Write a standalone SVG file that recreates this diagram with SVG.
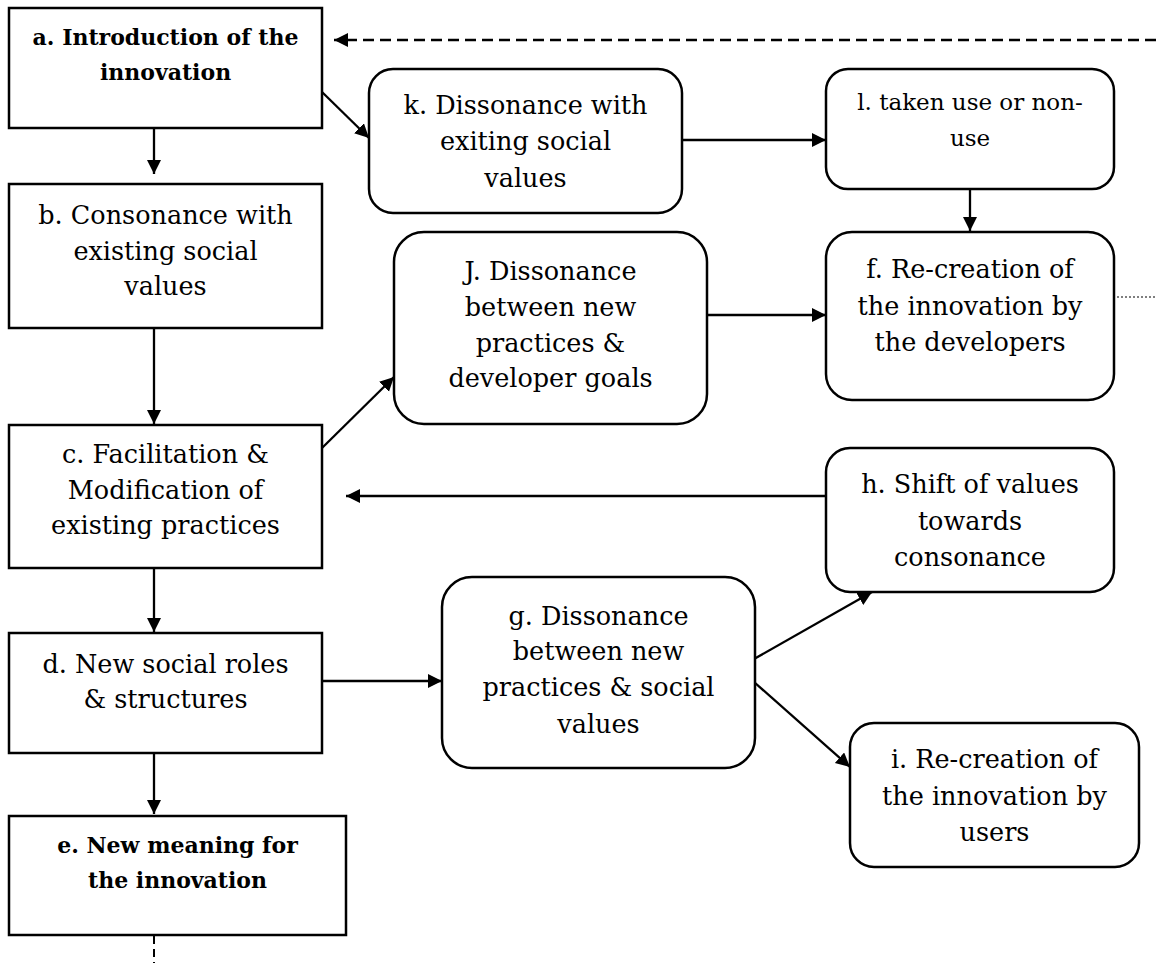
<svg xmlns="http://www.w3.org/2000/svg" width="1156" height="963" viewBox="0 0 1156 963">
<style>
.box{fill:#fff;stroke:#000;stroke-width:2.5}
.t{font-family:"DejaVu Serif","Liberation Serif",serif;font-size:25.5px;fill:#000;text-anchor:middle}
.tb{font-family:"DejaVu Serif","Liberation Serif",serif;font-size:22px;font-weight:bold;fill:#000;text-anchor:middle}
.tr{font-family:"DejaVu Serif","Liberation Serif",serif;font-size:23px;fill:#000;text-anchor:middle}
.c{fill:none;stroke:#000;stroke-width:2.3}
.dash{fill:none;stroke:#000;stroke-width:2.3;stroke-dasharray:11 6}
.dot{fill:none;stroke:#000;stroke-width:1.2;stroke-dasharray:2 2}
.vdash{fill:none;stroke:#000;stroke-width:2;stroke-dasharray:8 5}
</style>
<defs>
<marker id="ah" markerUnits="userSpaceOnUse" markerWidth="15" markerHeight="15" refX="14" refY="7" orient="auto">
<path d="M0,0 L14,7 L0,14 Z" fill="#000"/>
</marker>
</defs>
<rect width="1156" height="963" fill="#fff"/>

<g id="connectors">
<line class="dash" x1="1156" y1="40" x2="334" y2="40" marker-end="url(#ah)"/>
<line class="c" x1="154" y1="128" x2="154" y2="174" marker-end="url(#ah)"/>
<line class="c" x1="154" y1="328" x2="154" y2="424" marker-end="url(#ah)"/>
<line class="c" x1="154" y1="568" x2="154" y2="632" marker-end="url(#ah)"/>
<line class="c" x1="154" y1="753" x2="154" y2="814" marker-end="url(#ah)"/>
<line class="c" x1="322" y1="92" x2="369" y2="138" marker-end="url(#ah)"/>
<line class="c" x1="682" y1="140" x2="826" y2="140" marker-end="url(#ah)"/>
<line class="c" x1="970" y1="189" x2="970" y2="231" marker-end="url(#ah)"/>
<line class="c" x1="707" y1="315" x2="826" y2="315" marker-end="url(#ah)"/>
<line class="c" x1="322" y1="448" x2="394" y2="377" marker-end="url(#ah)"/>
<line class="c" x1="826" y1="496" x2="346" y2="496" marker-end="url(#ah)"/>
<line class="c" x1="322" y1="681" x2="442" y2="681" marker-end="url(#ah)"/>
<line class="c" x1="754" y1="659" x2="872" y2="592" marker-end="url(#ah)"/>
<line class="c" x1="754" y1="682" x2="850" y2="767" marker-end="url(#ah)"/>
<line class="dot" x1="1117" y1="297" x2="1156" y2="297"/>
<line class="vdash" x1="154" y1="936" x2="154" y2="963"/>
</g>

<g id="node-a">
<rect class="box" x="9" y="8" width="313" height="120"/>
<text class="tb" x="165.5" y="45">a. Introduction of the</text>
<text class="tb" x="165.5" y="80">innovation</text>
</g>
<g id="node-b">
<rect class="box" x="9" y="184" width="313" height="144"/>
<text class="t" x="165.5" y="224">b. Consonance with</text>
<text class="t" x="165.5" y="260">existing social</text>
<text class="t" x="165.5" y="295">values</text>
</g>
<g id="node-c">
<rect class="box" x="9" y="425" width="313" height="143"/>
<text class="t" x="165.5" y="463">c. Facilitation &amp;</text>
<text class="t" x="165.5" y="499">Modification of</text>
<text class="t" x="165.5" y="534">existing practices</text>
</g>
<g id="node-d">
<rect class="box" x="9" y="633" width="313" height="120"/>
<text class="t" x="165.5" y="673">d. New social roles</text>
<text class="t" x="165.5" y="708">&amp; structures</text>
</g>
<g id="node-e">
<rect class="box" x="9" y="816" width="337" height="119"/>
<text class="tb" x="177.5" y="853">e. New meaning for</text>
<text class="tb" x="177.5" y="888">the innovation</text>
</g>
<g id="node-k">
<rect class="box" x="369" y="69" width="313" height="144" rx="24"/>
<text class="t" x="525.5" y="114">k. Dissonance with</text>
<text class="t" x="525.5" y="150">exiting social</text>
<text class="t" x="525.5" y="187">values</text>
</g>
<g id="node-l">
<rect class="box" x="826" y="69" width="288" height="120" rx="22"/>
<text class="tr" x="970" y="110">l. taken use or non-</text>
<text class="tr" x="970" y="146">use</text>
</g>
<g id="node-f">
<rect class="box" x="826" y="232" width="288" height="168" rx="26"/>
<text class="t" x="970" y="278">f. Re-creation of</text>
<text class="t" x="970" y="315">the innovation by</text>
<text class="t" x="970" y="351">the developers</text>
</g>
<g id="node-j">
<rect class="box" x="394" y="232" width="313" height="192" rx="30"/>
<text class="t" x="550.5" y="280">J. Dissonance</text>
<text class="t" x="550.5" y="316">between new</text>
<text class="t" x="550.5" y="352">practices &amp;</text>
<text class="t" x="550.5" y="387">developer goals</text>
</g>
<g id="node-h">
<rect class="box" x="826" y="448" width="288" height="144" rx="24"/>
<text class="t" x="970" y="493">h. Shift of values</text>
<text class="t" x="970" y="530">towards</text>
<text class="t" x="970" y="566">consonance</text>
</g>
<g id="node-g">
<rect class="box" x="442" y="577" width="313" height="191" rx="30"/>
<text class="t" x="598.5" y="625">g. Dissonance</text>
<text class="t" x="598.5" y="660">between new</text>
<text class="t" x="598.5" y="696">practices &amp; social</text>
<text class="t" x="598.5" y="733">values</text>
</g>
<g id="node-i">
<rect class="box" x="850" y="723" width="289" height="144" rx="24"/>
<text class="t" x="994.5" y="768">i. Re-creation of</text>
<text class="t" x="994.5" y="805">the innovation by</text>
<text class="t" x="994.5" y="841">users</text>
</g>
</svg>
